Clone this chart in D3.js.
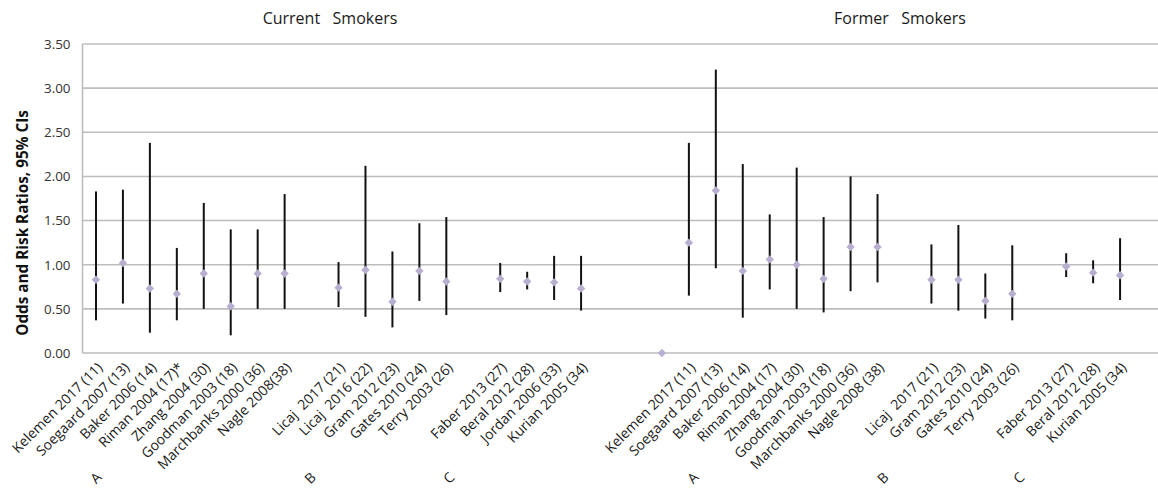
<!DOCTYPE html>
<html>
<head>
<meta charset="utf-8">
<script src="https://cdn.jsdelivr.net/npm/d3@7/dist/d3.min.js"></script>
<style>
  html, body { margin: 0; padding: 0; background: #fff; }
  svg { display: block; font-family: "Open Sans", "Noto Sans", sans-serif; }
  .cat text { white-space: pre; }
</style>
</head>
<body>
<svg id="chart" width="1158" height="491"></svg>
<script>
// Study labels along the category axis ("" = spacer slot)
const categories = [
  "Kelemen 2017 (11)", "Soegaard 2007 (13)", "Baker 2006 (14)", "Riman 2004 (17)*",
  "Zhang 2004 (30)", "Goodman 2003 (18)", "Marchbanks 2000 (36)", "Nagle 2008(38)", "",
  "Licaj  2017 (21)", "Licaj  2016 (22)", "Gram 2012 (23)", "Gates 2010 (24)", "Terry 2003 (26)", "",
  "Faber 2013 (27)", "Beral 2012 (28)", "Jordan 2006 (33)", "Kurian 2005 (34)", "", "", "",
  "Kelemen 2017 (11)", "Soegaard 2007 (13)", "Baker 2006 (14)", "Riman 2004 (17)",
  "Zhang 2004 (30)", "Goodman 2003 (18)", "Marchbanks 2000 (36)", "Nagle 2008 (38)", "",
  "Licaj  2017 (21)", "Gram 2012 (23)", "Gates 2010 (24)", "Terry 2003 (26)", "",
  "Faber 2013 (27)", "Beral 2012 (28)", "Kurian 2005 (34)", ""
];

// Point estimates (odds / risk ratios)
const estimates = [
  0.83, 1.02, 0.73, 0.67, 0.90, 0.53, 0.90, 0.90, null,
  0.74, 0.94, 0.58, 0.93, 0.81, null,
  0.84, 0.81, 0.80, 0.73, null, null, 0,
  1.25, 1.84, 0.93, 1.06, 1.00, 0.84, 1.20, 1.20, null,
  0.83, 0.83, 0.59, 0.67, null,
  0.98, 0.91, 0.88, null
];

// Lower 95% confidence limits
const lowerCI = [
  0.37, 0.56, 0.23, 0.37, 0.50, 0.20, 0.50, 0.50, null,
  0.52, 0.41, 0.29, 0.59, 0.43, null,
  0.69, 0.72, 0.60, 0.48, null, null, null,
  0.65, 0.96, 0.40, 0.72, 0.50, 0.46, 0.70, 0.80, null,
  0.56, 0.48, 0.39, 0.37, null,
  0.86, 0.79, 0.60, null
];

// Upper 95% confidence limits
const upperCI = [
  1.83, 1.85, 2.38, 1.19, 1.70, 1.40, 1.40, 1.80, null,
  1.03, 2.12, 1.15, 1.47, 1.54, null,
  1.02, 0.92, 1.10, 1.10, null, null, null,
  2.38, 3.21, 2.14, 1.57, 2.10, 1.54, 2.00, 1.80, null,
  1.23, 1.45, 0.90, 1.22, null,
  1.13, 1.05, 1.30, null
];

const yTicks = [0, 0.5, 1.0, 1.5, 2.0, 2.5, 3.0, 3.5];
const panelTitles = ["Current   Smokers", "Former   Smokers"];
const groupLabels = ["A", "B", "C", "A", "B", "C"];

// ---- layout ----
const plot = { left: 82.5, top: 44, bottom: 353, slot: 26.95 };
plot.right = plot.left + plot.slot * categories.length;
// group letter anchors, in category-slot units
const groupSlots = [0, 7.95, 13.1, 22.15, 29.2, 34.25];
const titleCenters = [330, 900];

const svg = d3.select("#chart");
const idx = categories.map((d, i) => i);

const x = d3.scaleBand().domain(idx).range([plot.left, plot.right]).padding(0);
const y = d3.scaleLinear().domain([0, 3.5]).range([plot.bottom, plot.top]);
const cx = i => x(i) + x.bandwidth() / 2;

// horizontal gridlines
svg.append("g")
  .selectAll("line").data(yTicks).join("line")
  .attr("x1", plot.left).attr("x2", plot.right)
  .attr("y1", d => y(d)).attr("y2", d => y(d))
  .attr("stroke", "#bdbdbd").attr("stroke-width", 1.6);

// vertical axis line
svg.append("line")
  .attr("x1", plot.left).attr("x2", plot.left)
  .attr("y1", y(3.5)).attr("y2", y(0))
  .attr("stroke", "#bdbdbd").attr("stroke-width", 1.6);

// y axis tick labels
const yAxis = d3.axisLeft(y).tickValues(yTicks).tickFormat(d3.format(".2f")).tickSize(0).tickPadding(12);
const yg = svg.append("g").attr("transform", `translate(${plot.left},0)`).call(yAxis);
yg.select(".domain").remove();
yg.selectAll("text").attr("font-size", 13.4).attr("fill", "#333")
  .attr("font-family", "'Open Sans', sans-serif");

// y axis title
svg.append("text")
  .attr("transform", `translate(28,223) rotate(-90)`)
  .attr("text-anchor", "middle")
  .attr("font-size", 15.3).attr("font-weight", "bold").attr("fill", "#111")
  .text("Odds and Risk Ratios, 95% CIs");

// category axis labels, rotated
const xAxis = d3.axisBottom(x).tickSize(0).tickFormat(i => categories[i]);
const xg = svg.append("g").attr("class", "cat")
  .attr("transform", `translate(0,${plot.bottom})`).call(xAxis);
xg.select(".domain").remove();
xg.selectAll("text")
  .attr("font-size", 14).attr("fill", "#1a1a1a")
  .attr("font-family", "'Open Sans', sans-serif")
  .attr("text-anchor", "end")
  .attr("transform", "translate(4,12) rotate(-45)")
  .attr("y", 0).attr("dy", "0.35em");

// group letters under each block
svg.append("g").selectAll("text").data(groupLabels).join("text")
  .attr("transform", (d, k) => `translate(${cx(0) + groupSlots[k] * plot.slot},478) rotate(-45)`)
  .attr("text-anchor", "middle").attr("dy", "0.35em")
  .attr("font-size", 14).attr("fill", "#1a1a1a")
  .text(d => d);

// panel titles
svg.append("g").selectAll("text").data(panelTitles).join("text")
  .attr("x", (d, k) => titleCenters[k]).attr("y", 24)
  .attr("text-anchor", "middle").attr("font-size", 16).attr("fill", "#1a1a1a")
  .style("white-space", "pre")
  .text(d => d);

// confidence interval whiskers
const ciIdx = idx.filter(i => lowerCI[i] != null && upperCI[i] != null);
svg.append("g").selectAll("line").data(ciIdx).join("line")
  .attr("x1", cx).attr("x2", cx)
  .attr("y1", i => y(lowerCI[i])).attr("y2", i => y(upperCI[i]))
  .attr("stroke", "#111").attr("stroke-width", 2);

// point estimates as diamonds
const ptIdx = idx.filter(i => estimates[i] != null);
const h = 4.2;
svg.append("g").selectAll("path").data(ptIdx).join("path")
  .attr("d", i => {
    const px = cx(i), py = y(estimates[i]);
    return `M${px},${py - h}L${px + h},${py}L${px},${py + h}L${px - h},${py}Z`;
  })
  .attr("fill", "#b7aed0");
</script>
</body>
</html>
